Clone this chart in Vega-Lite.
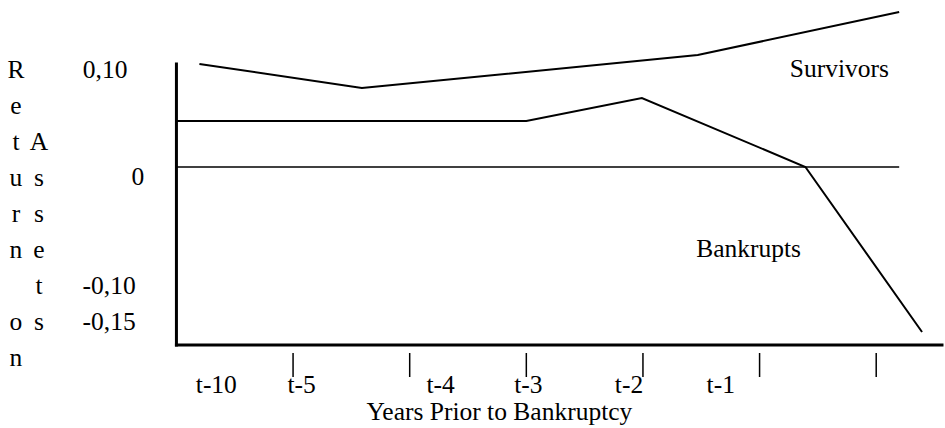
{
  "$schema": "https://vega.github.io/schema/vega-lite/v6.json",
  "width": 945,
  "height": 428,
  "autosize": {"type": "fit", "contains": "padding"},
  "padding": 0,
  "background": "white",
  "config": {"view": {"stroke": null}},
  "datasets": {
    "lines": [
      {"series": "Survivors", "u": 0.197, "v": 0.103},
      {"series": "Survivors", "u": 1.590, "v": 0.079},
      {"series": "Survivors", "u": 4.470, "v": 0.112},
      {"series": "Survivors", "u": 6.197, "v": 0.155},
      {"series": "Bankrupts", "u": 0.0, "v": 0.046},
      {"series": "Bankrupts", "u": 3.0, "v": 0.046},
      {"series": "Bankrupts", "u": 3.991, "v": 0.069},
      {"series": "Bankrupts", "u": 5.393, "v": 0.0},
      {"series": "Bankrupts", "u": 6.393, "v": -0.165}
    ],
    "zero": [{"u": 0, "v": 0, "u2": 6.197, "v2": 0}],
    "axes": [
      {"u": 0, "v": 0.103, "u2": 0, "v2": -0.178},
      {"u": 0, "v": -0.178, "u2": 6.564, "v2": -0.178}
    ],
    "ticks": [
      {"u": 1, "v": -0.186, "u2": 1, "v2": -0.210},
      {"u": 2, "v": -0.186, "u2": 2, "v2": -0.210},
      {"u": 3, "v": -0.186, "u2": 3, "v2": -0.210},
      {"u": 4, "v": -0.186, "u2": 4, "v2": -0.210},
      {"u": 5, "v": -0.186, "u2": 5, "v2": -0.210},
      {"u": 6, "v": -0.186, "u2": 6, "v2": -0.210}
    ],
    "ctext": [
      {"text": "t-10", "u": 0.342, "v": -0.226},
      {"text": "t-5", "u": 1.073, "v": -0.226},
      {"text": "t-4", "u": 2.265, "v": -0.226},
      {"text": "t-3", "u": 3.017, "v": -0.226},
      {"text": "t-2", "u": 3.880, "v": -0.226},
      {"text": "t-1", "u": 4.667, "v": -0.226},
      {"text": "Years Prior to Bankruptcy", "u": 2.769, "v": -0.253},
      {"text": "Survivors", "u": 5.684, "v": 0.090},
      {"text": "Bankrupts", "u": 4.906, "v": -0.090},
      {"text": "R", "u": -1.376, "v": 0.089},
      {"text": "e", "u": -1.376, "v": 0.053},
      {"text": "t", "u": -1.376, "v": 0.017},
      {"text": "u", "u": -1.376, "v": -0.019},
      {"text": "r", "u": -1.376, "v": -0.055},
      {"text": "n", "u": -1.376, "v": -0.091},
      {"text": "o", "u": -1.376, "v": -0.163},
      {"text": "n", "u": -1.376, "v": -0.199},
      {"text": "A", "u": -1.179, "v": 0.017},
      {"text": "s", "u": -1.179, "v": -0.019},
      {"text": "s", "u": -1.179, "v": -0.055},
      {"text": "e", "u": -1.179, "v": -0.091},
      {"text": "t", "u": -1.179, "v": -0.127},
      {"text": "s", "u": -1.179, "v": -0.163}
    ],
    "ltext": [
      {"text": "0,10", "u": -0.803, "v": 0.089},
      {"text": "0", "u": -0.385, "v": -0.018},
      {"text": "-0,10", "u": -0.805, "v": -0.127},
      {"text": "-0,15", "u": -0.805, "v": -0.163}
    ]
  },
  "encoding": {
    "x": {"field": "u", "type": "quantitative", "scale": {"domain": [-1.5128, 6.5641], "nice": false, "zero": false}, "axis": null},
    "y": {"field": "v", "type": "quantitative", "scale": {"domain": [-0.261, 0.167], "nice": false, "zero": false}, "axis": null}
  },
  "layer": [
    {
      "data": {"name": "zero"},
      "mark": {"type": "rule", "color": "black", "strokeWidth": 1.5},
      "encoding": {"x2": {"field": "u2"}, "y2": {"field": "v2"}}
    },
    {
      "data": {"name": "axes"},
      "mark": {"type": "rule", "color": "black", "strokeWidth": 3, "strokeCap": "square"},
      "encoding": {"x2": {"field": "u2"}, "y2": {"field": "v2"}}
    },
    {
      "data": {"name": "ticks"},
      "mark": {"type": "rule", "color": "black", "strokeWidth": 1.5},
      "encoding": {"x2": {"field": "u2"}, "y2": {"field": "v2"}}
    },
    {
      "data": {"name": "lines"},
      "mark": {"type": "line", "color": "black", "strokeWidth": 2},
      "encoding": {"detail": {"field": "series"}}
    },
    {
      "data": {"name": "ctext"},
      "mark": {"type": "text", "font": "Liberation Serif, Times New Roman, serif", "fontSize": 25.5, "color": "black", "align": "center", "baseline": "alphabetic"},
      "encoding": {"text": {"field": "text"}}
    },
    {
      "data": {"name": "ltext"},
      "mark": {"type": "text", "font": "Liberation Serif, Times New Roman, serif", "fontSize": 25.5, "color": "black", "align": "left", "baseline": "alphabetic"},
      "encoding": {"text": {"field": "text"}}
    }
  ]
}
